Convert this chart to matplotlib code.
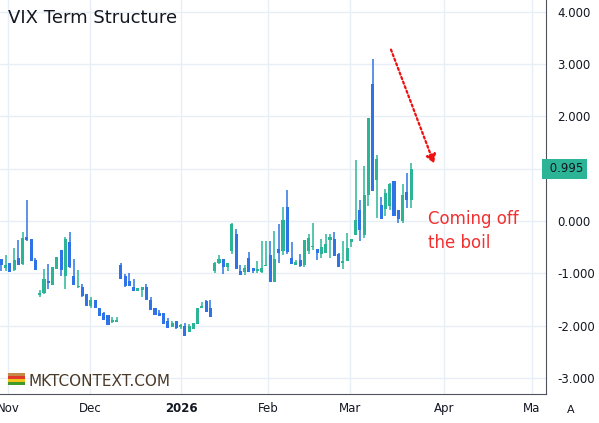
import matplotlib
matplotlib.use("Agg")
import matplotlib.pyplot as plt
from matplotlib.patches import Rectangle, FancyArrowPatch

opens = [-0.73,-0.90,-0.80,-0.94,-0.71,-0.82,-0.31,-0.34,-0.75,-1.41,-1.38,-1.17,-1.22,-0.92,-0.55,-1.06,-0.40,-1.05,-1.27,-1.26,
         -1.39,-1.62,-1.51,-1.66,-1.76,-1.80,-1.94,-1.93,-0.84,-1.05,-1.15,-1.26,-1.34,-1.32,-1.26,-1.51,-1.66,-1.76,-1.76,-1.91,
         -2.03,-1.91,-2.02,-2.01,-2.12,-2.06,-1.97,-1.66,-1.53,-1.66,-0.96,-0.80,-0.73,-0.89,-0.57,-0.25,-0.96,-0.97,-0.71,-0.90,
         -0.95,-0.97,-0.87,-0.65,-1.16,-0.54,-0.57,0.27,-0.71,-0.85,-0.75,-0.84,-0.57,-0.50,-0.54,-0.64,-0.62,-0.36,-0.34,-0.63,
         -0.80,-0.76,-0.41,-0.26,0.21,-0.26,0.50,2.62,0.79,0.31,0.22,0.29,0.76,0.21,-0.01,0.55,0.41]
highs = [-0.73,-0.65,-0.80,-0.52,-0.36,-0.22,0.40,-0.34,-0.71,-1.32,-0.92,-0.82,-0.89,-0.69,-0.55,-0.30,-0.21,-0.73,-0.94,-1.20,
         -1.39,-1.45,-1.51,-1.66,-1.74,-1.80,-1.83,-1.83,-0.80,-1.01,-0.99,-1.11,-1.28,-1.26,-1.20,-1.45,-1.66,-1.70,-1.76,-1.85,
         -1.91,-1.91,-1.97,-1.95,-1.97,-1.95,-1.66,-1.55,-1.51,-1.51,-0.78,-0.65,-0.73,-0.80,-0.03,-0.15,-0.84,-0.84,-0.59,-0.90,
         -0.76,-0.39,-0.39,-0.38,-0.19,-0.06,0.27,0.59,-0.40,-0.75,-0.63,-0.36,-0.25,-0.03,-0.54,-0.34,-0.25,-0.25,-0.21,-0.61,
         -0.39,-0.23,-0.34,1.17,0.40,1.05,1.97,3.10,1.26,0.46,0.61,0.73,0.76,0.21,0.71,0.92,1.11]
lows = [-0.95,-0.95,-0.97,-0.95,-0.85,-0.84,-0.39,-0.76,-0.93,-1.45,-1.39,-1.30,-1.22,-0.92,-1.05,-1.30,-0.90,-1.22,-1.29,-1.46,
        -1.62,-1.67,-1.67,-1.82,-1.89,-1.99,-1.96,-1.94,-1.11,-1.26,-1.24,-1.34,-1.34,-1.45,-1.51,-1.70,-1.80,-1.82,-1.97,-2.05,
        -2.03,-2.06,-2.06,-2.20,-2.12,-2.06,-1.97,-1.66,-1.74,-1.84,-0.99,-0.83,-1.01,-0.95,-0.64,-0.91,-1.04,-1.04,-0.97,-0.99,
        -0.99,-0.99,-0.87,-1.16,-1.16,-0.80,-0.65,-0.64,-0.83,-0.85,-0.89,-0.89,-0.64,-0.55,-0.74,-0.70,-0.62,-0.70,-0.68,-0.89,
        -0.91,-0.76,-0.49,-0.26,-0.39,-0.32,0.29,0.57,0.06,0.04,0.10,0.20,0.10,-0.03,-0.03,0.24,0.25]
closes = [-0.84,-0.84,-0.97,-0.75,-0.85,-0.33,-0.36,-0.76,-0.93,-1.40,-1.11,-1.18,-0.89,-0.69,-0.94,-0.34,-0.89,-1.22,-1.24,-1.43,
          -1.62,-1.51,-1.67,-1.82,-1.89,-1.99,-1.89,-1.89,-1.11,-1.24,-1.24,-1.34,-1.28,-1.26,-1.51,-1.70,-1.80,-1.82,-1.97,-2.05,
          -1.95,-2.05,-2.01,-2.20,-2.01,-1.95,-1.66,-1.64,-1.74,-1.84,-0.80,-0.73,-0.89,-0.80,-0.05,-0.91,-1.04,-0.90,-0.97,-0.95,
          -0.93,-0.90,-0.86,-1.16,-0.73,-0.61,0.02,-0.59,-0.83,-0.78,-0.87,-0.36,-0.32,-0.48,-0.62,-0.50,-0.44,-0.31,-0.68,-0.89,
          -0.78,-0.52,-0.34,0.02,-0.17,0.50,1.97,0.57,1.18,0.04,0.54,0.71,0.10,0.04,0.50,0.41,0.995]

month_labels = ["Nov", "Dec", "2026", "Feb", "Mar", "Apr", "Ma"]
month_pos = [1.6, 20.8, 42.1, 62.5, 81.7, 103.7, 124.3]
y_ticks = [4, 3, 2, 1, 0, -1, -2, -3]
last_price = 0.995

UP = "#2bb596"
DOWN = "#2f74e6"
GRID = "#e8eef5"

fig = plt.figure(figsize=(5.99, 4.23), dpi=100)
ax = fig.add_axes([0, 29/423, 546/599, 394/423])
ax.set_xlim(-0.3, 127.6)
ax.set_ylim(-3.31, 4.226)

for i, (o, h, l, c) in enumerate(zip(opens, highs, lows, closes)):
    col = UP if c >= o else DOWN
    ax.vlines(i, l, h, color=col, lw=1.1, zorder=3)
    bot = min(o, c)
    hgt = max(abs(c - o), 0.025)
    ax.add_patch(Rectangle((i - 0.36, bot), 0.72, hgt, color=col, lw=0, zorder=4))

for yv in y_ticks:
    ax.axhline(yv, color=GRID, lw=1, zorder=0)
for xp in month_pos:
    ax.axvline(xp, color=GRID, lw=1, zorder=0)

shown = [v for v in y_ticks if abs(v - last_price) > 0.2]
ax.set_yticks(shown)
ax.set_yticklabels([f"{v:.3f}" for v in shown])
ax.yaxis.tick_right()
ax.set_xticks(month_pos)
ax.set_xticklabels(month_labels)
for lbl in ax.get_xticklabels():
    if lbl.get_text() == "2026":
        lbl.set_fontweight("bold")
ax.tick_params(axis="both", length=0, labelsize=8.5, colors="#131722")
ax.tick_params(axis="y", pad=8)
ax.tick_params(axis="x", pad=6)
for s in ["top", "left"]:
    ax.spines[s].set_visible(False)
ax.spines["right"].set_color("#50535e")
ax.spines["bottom"].set_color("#50535e")

ax.text(1.0, last_price, f" {last_price:.3f}", transform=ax.get_yaxis_transform(),
        ha="left", va="center", fontsize=8.5, color="#131722",
        bbox=dict(boxstyle="square,pad=0.3", fc=UP, ec="none"), clip_on=False)

fig.text(8/599, 1 - 18/423, "VIX Term Structure", fontsize=13, color="#131722", va="center")
fig.text(428/599, 1 - 219/423, "Coming off", fontsize=12, color="#f23030", va="center")
fig.text(428/599, 1 - 243/423, "the boil", fontsize=12, color="#f23030", va="center")

arr = FancyArrowPatch((390/599, 1 - 47/423), (435/599, 1 - 166/423), transform=fig.transFigure,
                      arrowstyle="-|>,head_length=5,head_width=3", color="#ee1111", lw=1.6,
                      linestyle=(0, (1, 1.2)))
fig.patches.append(arr)

# logo
for k, c in enumerate(["#c58a4a", "#e23a2a", "#f0c419", "#3f9a2a"]):
    fig.patches.append(Rectangle((8/599, 1 - (376 + k * 3)/423), 17/599, 3/423,
                                 transform=fig.transFigure, color=c, lw=0))
fig.text(29/599, 1 - 381/423, "MKTCONTEXT.COM", fontsize=11, color="#4a3a2a", va="center")

fig.text(571/599, 1 - 410/423, "A", fontsize=8, color="#131722", ha="center", va="center")

fig.savefig("out.png", dpi=100)
